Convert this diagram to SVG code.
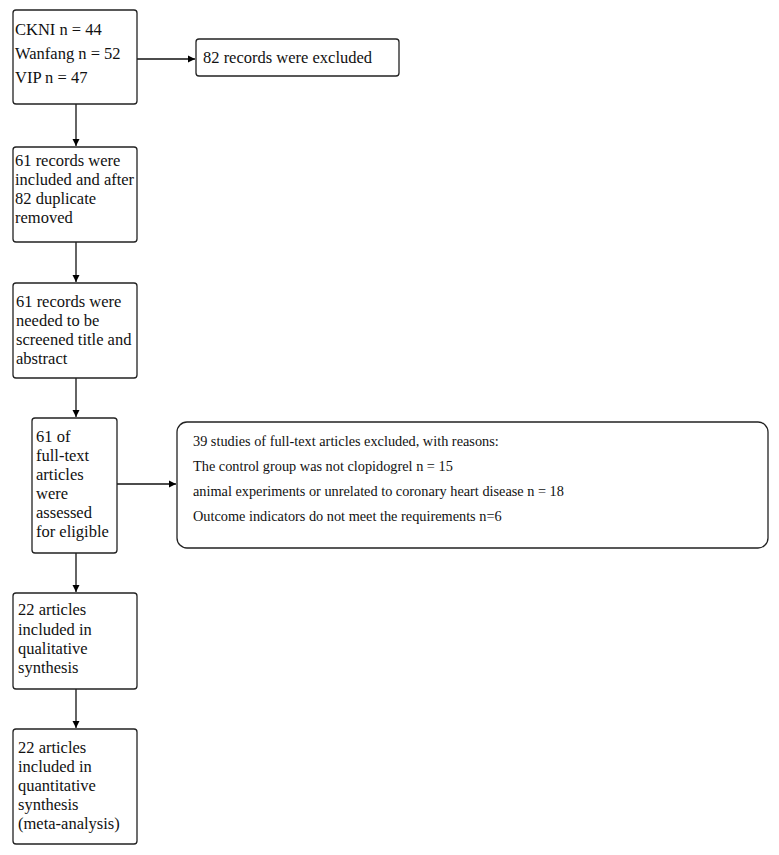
<svg xmlns="http://www.w3.org/2000/svg" width="779" height="855" viewBox="0 0 779 855">
<defs>
<marker id="ah" markerWidth="8" markerHeight="8" refX="7" refY="4" orient="auto" markerUnits="userSpaceOnUse">
<path d="M0,0.5 L7,4 L0,7.5 Z" fill="#000"/>
</marker>
</defs>
<style>
.box{fill:#fff;stroke:#222;stroke-width:1.3}
.t{font-family:"Liberation Serif",serif;font-size:16.5px;fill:#111}
.s{font-size:14.3px}
.c{stroke:#111;stroke-width:1.3;fill:none;marker-end:url(#ah)}
</style>
<rect width="779" height="855" fill="#fff"/>
<g id="connectors">
<line class="c" x1="137" y1="59" x2="195" y2="59"/>
<line class="c" x1="76" y1="104" x2="76" y2="146"/>
<line class="c" x1="76" y1="242" x2="76" y2="282"/>
<line class="c" x1="76" y1="378" x2="76" y2="417"/>
<line class="c" x1="117" y1="484" x2="176" y2="484"/>
<line class="c" x1="76" y1="553" x2="76" y2="592"/>
<line class="c" x1="76" y1="689" x2="76" y2="728"/>
</g>
<g id="n1"><rect class="box" x="13" y="10" width="124" height="94" rx="3"/>
<text class="t" x="15" y="35">CKNI n = 44</text>
<text class="t" x="15" y="59">Wanfang n = 52</text>
<text class="t" x="15" y="83">VIP n = 47</text></g>
<g id="n2"><rect class="box" x="196" y="39" width="203" height="37" rx="3"/>
<text class="t" x="203" y="63">82 records were excluded</text></g>
<g id="n3"><rect class="box" x="13" y="147" width="124" height="95" rx="3"/>
<text class="t" x="15" y="166">61 records were</text>
<text class="t" x="15" y="185">included and after</text>
<text class="t" x="15" y="204">82 duplicate</text>
<text class="t" x="15" y="223">removed</text></g>
<g id="n4"><rect class="box" x="13" y="283" width="124" height="95" rx="3"/>
<text class="t" x="16" y="307">61 records were</text>
<text class="t" x="16" y="326">needed to be</text>
<text class="t" x="16" y="345">screened title and</text>
<text class="t" x="16" y="364">abstract</text></g>
<g id="n5"><rect class="box" x="32" y="418" width="85" height="135" rx="3"/>
<text class="t" x="36" y="442">61 of</text>
<text class="t" x="36" y="461">full-text</text>
<text class="t" x="36" y="480">articles</text>
<text class="t" x="36" y="499">were</text>
<text class="t" x="36" y="518">assessed</text>
<text class="t" x="36" y="537">for eligible</text></g>
<g id="n6"><rect class="box" x="177" y="422" width="591" height="126" rx="10"/>
<text class="t s" x="193" y="446">39 studies of full-text articles excluded, with reasons:</text>
<text class="t s" x="193" y="471">The control group was not clopidogrel n = 15</text>
<text class="t s" x="193" y="496">animal experiments or unrelated to coronary heart disease n = 18</text>
<text class="t s" x="193" y="521">Outcome indicators do not meet the requirements n=6</text></g>
<g id="n7"><rect class="box" x="13" y="593" width="124" height="96" rx="3"/>
<text class="t" x="18" y="615">22 articles</text>
<text class="t" x="18" y="635">included in</text>
<text class="t" x="18" y="654">qualitative</text>
<text class="t" x="18" y="673">synthesis</text></g>
<g id="n8"><rect class="box" x="13" y="729" width="124" height="115" rx="3"/>
<text class="t" x="18" y="753">22 articles</text>
<text class="t" x="18" y="772">included in</text>
<text class="t" x="18" y="791">quantitative</text>
<text class="t" x="18" y="810">synthesis</text>
<text class="t" x="18" y="829">(meta-analysis)</text></g>
</svg>
